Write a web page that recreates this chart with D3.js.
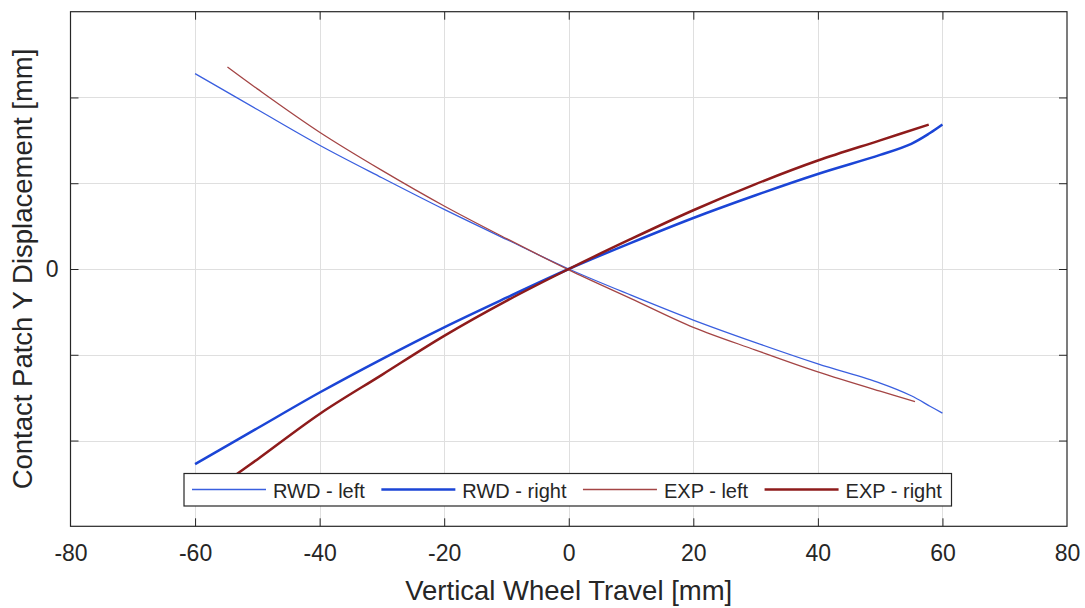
<!DOCTYPE html>
<html>
<head>
<meta charset="utf-8">
<script src="https://cdn.jsdelivr.net/npm/d3@7"></script>
<style>
  body { margin: 0; background: white; }
  svg { display: block; font-family: "Liberation Sans", Arial, sans-serif; }
</style>
</head>
<body>
<div id="chart"></div>
<script>
// wheel travel [mm] and contact patch y displacement (in y tick units)
const rwdTravel = [-60, -50, -40, -30, -20, -10, 0, 10, 20, 30, 40, 50, 55, 58, 60]
const rwdLeft = [2.278, 1.859, 1.443, 1.064, 0.695, 0.345, 0, -0.305, -0.595, -0.858, -1.106, -1.33, -1.478, -1.6, -1.68]
const rwdRight = [-2.276, -1.857, -1.44, -1.05, -0.68, -0.335, 0, 0.305, 0.595, 0.86, 1.108, 1.33, 1.46, 1.585, 1.684]

const expLeftTravel = [-54.8, -50, -40, -30, -20, -10, 0, 10, 20, 30, 40, 50, 55.6]
const expLeft = [2.355, 2.1, 1.595, 1.15, 0.735, 0.355, -0.01, -0.345, -0.68, -0.945, -1.2, -1.425, -1.545]
const expRightTravel = [-54.8, -50, -40, -30, -20, -10, 0, 10, 20, 30, 40, 50, 57.8]
const expRight = [-2.47, -2.22, -1.69, -1.234, -0.78, -0.372, 0, 0.35, 0.685, 0.99, 1.265, 1.5, 1.684]

const xTicks = [-80, -60, -40, -20, 0, 20, 40, 60, 80]
const yTicks = [-2, -1, 0, 1, 2]
const yTickLabels = ["", "", "0", "", ""]

const seriesNames = ["RWD - left", "RWD - right", "EXP - left", "EXP - right"]

let W = 1085, H = 608
let pLeft = 70.5, pRight = 1067, pTop = 11.7, pBottom = 526.3
let blue = "#1b45d6", red = "#8e1b1b"
let blueThin = "#3a5fdf", redThin = "#a44545"
let axisColor = "#262626"

let series = [
    { name: seriesNames[0], xs: rwdTravel, ys: rwdLeft, color: blueThin, width: 1.3 },
    { name: seriesNames[1], xs: rwdTravel, ys: rwdRight, color: blue, width: 2.5 },
    { name: seriesNames[2], xs: expLeftTravel, ys: expLeft, color: redThin, width: 1.3 },
    { name: seriesNames[3], xs: expRightTravel, ys: expRight, color: red, width: 2.5 }
]

let svg = d3.select("#chart").append("svg")
    .attr("width", W).attr("height", H)

let x = d3.scaleLinear().domain([-80, 80]).range([pLeft, pRight])
let y = d3.scaleLinear().domain([-3, 3]).range([pBottom, pTop])

svg.append("defs").append("clipPath").attr("id", "plotClip")
    .append("rect").attr("x", pLeft).attr("y", pTop)
    .attr("width", pRight - pLeft).attr("height", pBottom - pTop)

// grid
let grid = svg.append("g").attr("stroke", "#dfdfdf").attr("stroke-width", 1)
grid.selectAll(".vg").data(xTicks.slice(1, -1)).enter().append("line")
    .attr("x1", d => Math.round(x(d)) + 0.5).attr("x2", d => Math.round(x(d)) + 0.5)
    .attr("y1", pTop).attr("y2", pBottom)
grid.selectAll(".hg").data(yTicks).enter().append("line")
    .attr("y1", d => Math.round(y(d)) + 0.5).attr("y2", d => Math.round(y(d)) + 0.5)
    .attr("x1", pLeft).attr("x2", pRight)

// axes, ticks pointing inward
let xAxis = svg.append("g").attr("transform", `translate(0,${pBottom})`)
    .call(d3.axisBottom(x).tickValues(xTicks).tickSize(-8).tickPadding(18).tickFormat(d => String(d)))
let xAxisTop = svg.append("g").attr("transform", `translate(0,${pTop})`)
    .call(d3.axisTop(x).tickValues(xTicks).tickSize(-8).tickFormat(""))
let yAxis = svg.append("g").attr("transform", `translate(${pLeft},0)`)
    .call(d3.axisLeft(y).tickValues(yTicks).tickSize(-8).tickPadding(12).tickFormat((d, i) => yTickLabels[i]))
let yAxisRight = svg.append("g").attr("transform", `translate(${pRight},0)`)
    .call(d3.axisRight(y).tickValues(yTicks).tickSize(-8).tickFormat(""))

;[xAxis, xAxisTop, yAxis, yAxisRight].forEach(a => {
    a.select(".domain").remove()
    a.selectAll("line").attr("stroke", axisColor)
    a.selectAll("text").attr("fill", axisColor).style("font-size", "23px")
        .style("font-family", "'Liberation Sans', Arial, sans-serif")
})
xAxis.selectAll(".tick:first-child line, .tick:last-child line").remove()
xAxisTop.selectAll(".tick:first-child line, .tick:last-child line").remove()

svg.append("rect").attr("x", pLeft).attr("y", pTop)
    .attr("width", pRight - pLeft).attr("height", pBottom - pTop)
    .attr("fill", "none").attr("stroke", axisColor).attr("stroke-width", 1.2)

// lines
let line = d3.line().curve(d3.curveCatmullRom.alpha(0.5))
let plot = svg.append("g").attr("clip-path", "url(#plotClip)")
plot.selectAll("path").data(series).enter().append("path")
    .attr("d", s => line(s.xs.map((v, i) => [x(v), y(s.ys[i])])))
    .attr("fill", "none")
    .attr("stroke", s => s.color)
    .attr("stroke-width", s => s.width)
    .attr("stroke-linejoin", "round")

// axis titles
svg.append("text").attr("x", (pLeft + pRight) / 2).attr("y", 600)
    .attr("text-anchor", "middle").attr("fill", axisColor)
    .style("font-size", "27.5px").text("Vertical Wheel Travel [mm]")
svg.append("text").attr("transform", `translate(32,${(pTop + pBottom) / 2}) rotate(-90)`)
    .attr("text-anchor", "middle").attr("fill", axisColor)
    .style("font-size", "27.5px").text("Contact Patch Y Displacement [mm]")

// legend
let legend = svg.append("g")
legend.append("rect").attr("x", 184).attr("y", 473.5)
    .attr("width", 767.5).attr("height", 32.5)
    .attr("fill", "white").attr("stroke", axisColor).attr("stroke-width", 1.2)

let lx = 192
series.forEach(s => {
    legend.append("path")
        .attr("d", `M${lx},489.5H${lx + 74}`)
        .attr("fill", "none")
        .attr("stroke", s.color).attr("stroke-width", s.width)
    let t = legend.append("text").attr("x", lx + 81).attr("y", 497.5)
        .attr("fill", axisColor).style("font-size", "20px").text(s.name)
    lx = lx + 81 + t.node().getComputedTextLength() + 16.5
})
</script>
</body>
</html>
